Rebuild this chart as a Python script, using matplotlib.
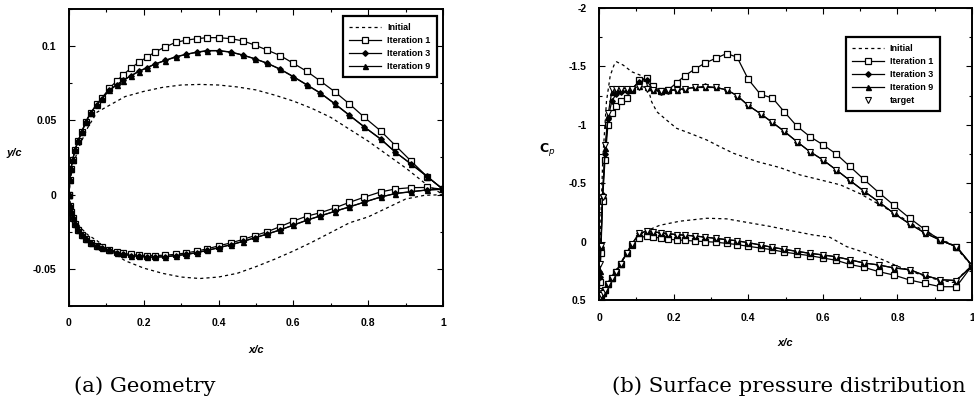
import matplotlib
matplotlib.use("Agg")
import matplotlib.pyplot as plt
from matplotlib.ticker import AutoMinorLocator, FixedLocator

# ---------------- data ----------------
# common marker stations (x/c)
xs = [0.0, 0.002, 0.005, 0.0095, 0.016, 0.024, 0.034, 0.045, 0.058, 0.074,
      0.088, 0.108, 0.128, 0.145, 0.165, 0.186, 0.208, 0.23, 0.258, 0.285,
      0.313, 0.342, 0.37, 0.40, 0.433, 0.465, 0.497, 0.53, 0.565, 0.6,
      0.636, 0.672, 0.71, 0.75, 0.79, 0.833, 0.873, 0.915, 0.958, 1.0]

# (a) geometry: upper / lower surfaces
geo_upper_it1 = [0.0, 0.010, 0.017, 0.023, 0.030, 0.036, 0.042, 0.049, 0.055, 0.0607,
                 0.065, 0.0716, 0.0766, 0.0807, 0.085, 0.089, 0.0925, 0.0960, 0.0995, 0.1025,
                 0.104, 0.105, 0.1057, 0.1057, 0.105, 0.1035, 0.1007, 0.0973, 0.0936, 0.0884,
                 0.083, 0.0765, 0.0694, 0.061, 0.052, 0.043, 0.033, 0.0225, 0.012, 0.0036]
geo_upper_it3 = [0.0, 0.010, 0.017, 0.023, 0.030, 0.036, 0.042, 0.049, 0.055, 0.0605,
                 0.0645, 0.0705, 0.074, 0.077, 0.080, 0.083, 0.0855, 0.088, 0.0905, 0.0928,
                 0.0945, 0.096, 0.097, 0.097, 0.096, 0.094, 0.0915, 0.0885, 0.0845, 0.0795,
                 0.074, 0.0685, 0.0614, 0.0535, 0.0456, 0.0376, 0.0286, 0.0206, 0.0122, 0.0036]
geo_upper_it9 = [0.0, 0.010, 0.017, 0.023, 0.030, 0.036, 0.042, 0.049, 0.055, 0.0605,
                 0.0645, 0.0703, 0.0738, 0.0768, 0.0798, 0.0828, 0.0853, 0.0878, 0.0903, 0.0926,
                 0.0944, 0.0958, 0.0968, 0.0969, 0.0959, 0.0939, 0.0914, 0.0884, 0.0843, 0.0793,
                 0.0738, 0.0683, 0.0612, 0.0533, 0.0454, 0.0374, 0.0285, 0.0205, 0.0121, 0.0036]
geo_lower_it1 = [0.0, -0.008, -0.012, -0.016, -0.020, -0.024, -0.0275, -0.030, -0.0325, -0.0345,
                 -0.0355, -0.037, -0.0385, -0.0395, -0.0402, -0.0407, -0.041, -0.041, -0.0408, -0.0402,
                 -0.0393, -0.038, -0.0365, -0.0345, -0.0325, -0.0302, -0.0276, -0.025, -0.0215, -0.0178,
                 -0.0145, -0.0122, -0.009, -0.0052, -0.0017, 0.0018, 0.0038, 0.0047, 0.0048, 0.0036]
geo_lower_it3 = [0.0, -0.008, -0.012, -0.016, -0.020, -0.024, -0.0275, -0.030, -0.0325, -0.0345,
                 -0.0357, -0.0373, -0.039, -0.040, -0.041, -0.0415, -0.042, -0.042, -0.0418, -0.041,
                 -0.0403, -0.039, -0.0375, -0.0357, -0.0337, -0.0315, -0.029, -0.0265, -0.0237, -0.0205,
                 -0.0172, -0.0143, -0.0113, -0.0082, -0.005, -0.0016, 0.0008, 0.002, 0.0032, 0.0036]
geo_lower_it9 = [0.0, -0.008, -0.012, -0.016, -0.020, -0.024, -0.0275, -0.030, -0.0325, -0.0345,
                 -0.0357, -0.0374, -0.0391, -0.0401, -0.0411, -0.0416, -0.0421, -0.0421, -0.0419, -0.0411,
                 -0.0404, -0.0391, -0.0376, -0.0358, -0.0338, -0.0316, -0.0291, -0.0266, -0.0238, -0.0206,
                 -0.0173, -0.0144, -0.0114, -0.0083, -0.0051, -0.0017, 0.0007, 0.0019, 0.0031, 0.0036]

# initial geometry (dotted)
xs_init = [0.0, 0.005, 0.01, 0.02, 0.03, 0.05, 0.075, 0.1, 0.15, 0.2, 0.25, 0.3, 0.35,
           0.4, 0.45, 0.5, 0.55, 0.6, 0.65, 0.7, 0.75, 0.8, 0.85, 0.9, 0.95, 1.0]
geo_upper_init = [0.0, 0.012, 0.018, 0.027, 0.034, 0.045, 0.0555, 0.059, 0.066, 0.0695, 0.0722, 0.0738, 0.0742,
                  0.0738, 0.0725, 0.0705, 0.067, 0.063, 0.058, 0.052, 0.044, 0.036, 0.027, 0.018, 0.008, 0.0]
geo_lower_init = [0.0, -0.008, -0.012, -0.018, -0.022, -0.027, -0.031, -0.036, -0.0445, -0.0495, -0.053, -0.0555, -0.0565,
                  -0.0555, -0.053, -0.0485, -0.0435, -0.038, -0.032, -0.0255, -0.019, -0.015, -0.009, -0.003, -0.0005, 0.0]

# (b) surface pressure
cp_upper_it1 = [0.48, 0.35, 0.10, -0.35, -0.70, -1.00, -1.10, -1.16, -1.20, -1.23,
                -1.30, -1.38, -1.40, -1.33, -1.29, -1.30, -1.36, -1.42, -1.48, -1.53,
                -1.57, -1.61, -1.58, -1.39, -1.26, -1.23, -1.11, -0.99, -0.90, -0.83,
                -0.75, -0.645, -0.533, -0.42, -0.313, -0.20, -0.105, -0.01, 0.043, 0.206]
cp_upper_it3 = [0.48, 0.30, 0.05, -0.40, -0.75, -1.05, -1.20, -1.26, -1.28, -1.29,
                -1.31, -1.37, -1.38, -1.30, -1.28, -1.29, -1.30, -1.31, -1.32, -1.33,
                -1.32, -1.30, -1.25, -1.166, -1.095, -1.02, -0.943, -0.857, -0.771, -0.70,
                -0.614, -0.525, -0.433, -0.34, -0.243, -0.151, -0.075, -0.012, 0.043, 0.206]
cp_upper_it9 = [0.48, 0.25, 0.04, -0.40, -0.80, -1.08, -1.28, -1.31, -1.31, -1.31,
                -1.31, -1.33, -1.32, -1.30, -1.29, -1.30, -1.30, -1.31, -1.32, -1.32,
                -1.32, -1.30, -1.25, -1.166, -1.095, -1.02, -0.943, -0.857, -0.771, -0.70,
                -0.614, -0.525, -0.433, -0.34, -0.243, -0.151, -0.075, -0.012, 0.043, 0.206]
cp_upper_target = [0.42, 0.19, 0.04, -0.38, -0.83, -1.10, -1.31, -1.31, -1.31, -1.31,
                   -1.31, -1.32, -1.31, -1.30, -1.29, -1.30, -1.30, -1.31, -1.32, -1.32,
                   -1.32, -1.30, -1.25, -1.166, -1.095, -1.02, -0.943, -0.857, -0.771, -0.70,
                   -0.614, -0.525, -0.433, -0.34, -0.243, -0.151, -0.075, -0.012, 0.043, 0.206]
cp_lower_it1 = [0.48, 0.47, 0.46, 0.44, 0.41, 0.36, 0.31, 0.26, 0.19, 0.10,
                0.03, -0.03, -0.05, -0.04, -0.03, -0.02, -0.015, -0.01, -0.005, 0.0,
                0.005, 0.015, 0.025, 0.04, 0.055, 0.07, 0.09, 0.105, 0.12, 0.14,
                0.16, 0.195, 0.22, 0.257, 0.286, 0.329, 0.357, 0.386, 0.386, 0.206]
cp_lower_it3 = [0.48, 0.47, 0.46, 0.44, 0.41, 0.36, 0.31, 0.26, 0.19, 0.10,
                0.02, -0.07, -0.09, -0.085, -0.075, -0.068, -0.06, -0.055, -0.048, -0.038,
                -0.028, -0.017, -0.007, 0.009, 0.029, 0.049, 0.066, 0.083, 0.10, 0.114,
                0.13, 0.155, 0.183, 0.20, 0.225, 0.24, 0.29, 0.326, 0.333, 0.206]
cp_lower_it9 = cp_lower_it3
cp_lower_target = [0.50, 0.47, 0.46, 0.44, 0.41, 0.36, 0.31, 0.26, 0.19, 0.10,
                   0.02, -0.07, -0.09, -0.085, -0.075, -0.068, -0.06, -0.055, -0.048, -0.038,
                   -0.028, -0.017, -0.007, 0.009, 0.029, 0.049, 0.066, 0.083, 0.10, 0.114,
                   0.13, 0.155, 0.183, 0.20, 0.225, 0.24, 0.29, 0.326, 0.333, 0.206]

xs_cp_init_u = [0.0, 0.005, 0.01, 0.02, 0.03, 0.04, 0.047, 0.065, 0.088, 0.11, 0.128, 0.141, 0.155,
                0.181, 0.208, 0.244, 0.289, 0.324, 0.36, 0.423, 0.485, 0.539, 0.593, 0.647,
                0.70, 0.75, 0.80, 0.85, 0.90, 0.95, 1.0]
cp_upper_init = [0.48, -0.2, -0.7, -1.2, -1.42, -1.51, -1.54, -1.511, -1.454, -1.426, -1.355, -1.198, -1.112,
                 -1.041, -0.97, -0.927, -0.87, -0.813, -0.757, -0.686, -0.634, -0.571, -0.529, -0.486,
                 -0.41, -0.32, -0.23, -0.13, -0.045, 0.03, 0.206]
xs_cp_init_l = [0.0, 0.01, 0.03, 0.05, 0.07, 0.09, 0.118, 0.163, 0.217, 0.289, 0.342, 0.396,
                0.459, 0.521, 0.574, 0.619, 0.664, 0.718, 0.762, 0.80, 0.85, 0.90, 0.95, 1.0]
cp_lower_init = [0.48, 0.42, 0.32, 0.22, 0.12, 0.02, -0.08, -0.14, -0.175, -0.20, -0.195, -0.165,
                 -0.13, -0.09, -0.057, -0.037, 0.043, 0.10, 0.157, 0.21, 0.27, 0.32, 0.35, 0.206]

# ---------------- figure ----------------
plt.rcParams['font.family'] = ['Liberation Sans', 'DejaVu Sans']
fig = plt.figure(figsize=(9.74, 4.12), dpi=100)
fig.patch.set_facecolor('white')

axL = fig.add_axes([0.0708, 0.2573, 0.3840, 0.7209])
axR = fig.add_axes([0.6150, 0.2718, 0.3830, 0.7087])

lw = 0.9
kw1 = dict(color='black', lw=lw, marker='s', ms=4.6, mfc='white', mec='black', mew=0.9)
kw3 = dict(color='black', lw=lw, marker='D', ms=2.8, mfc='black', mec='black')
kw9 = dict(color='black', lw=lw, marker='^', ms=3.6, mfc='black', mec='black')
kwi = dict(color='black', lw=0.9, ls=(0, (2.5, 2.5)))

# (a)
axL.plot(xs_init, geo_upper_init, label='Initial', **kwi)
axL.plot(xs_init, geo_lower_init, **kwi)
axL.plot(xs, geo_upper_it1, label='Iteration 1', **kw1)
axL.plot(xs, geo_lower_it1, **kw1)
axL.plot(xs, geo_upper_it3, label='Iteration 3', **kw3)
axL.plot(xs, geo_lower_it3, **kw3)
axL.plot(xs, geo_upper_it9, label='Iteration 9', **kw9)
axL.plot(xs, geo_lower_it9, **kw9)
axL.set_xlim(0, 1)
axL.set_ylim(-0.075, 0.125)
axL.yaxis.set_major_locator(FixedLocator([-0.05, 0, 0.05, 0.1]))
axL.set_yticklabels(['-0.05', '0', '0.05', '0.1'])
axL.set_xticks([0, 0.2, 0.4, 0.6, 0.8, 1.0])
axL.set_xticklabels(['0', '0.2', '0.4', '0.6', '0.8', '1'])

# (b)
axR.plot(xs_cp_init_u, cp_upper_init, label='Initial', **kwi)
axR.plot(xs_cp_init_l, cp_lower_init, **kwi)
axR.plot(xs, cp_upper_it1, label='Iteration 1', **kw1)
axR.plot(xs, cp_lower_it1, **kw1)
axR.plot(xs, cp_upper_it3, label='Iteration 3', **kw3)
axR.plot(xs, cp_lower_it3, **kw3)
axR.plot(xs, cp_upper_it9, label='Iteration 9', **kw9)
axR.plot(xs, cp_lower_it9, **kw9)
axR.plot(xs, cp_upper_target, ls='none', marker='v', ms=4.2, mfc='white', mec='black', mew=0.8, label='target')
axR.plot(xs, cp_lower_target, ls='none', marker='v', ms=4.2, mfc='white', mec='black', mew=0.8)
axR.set_xlim(0, 1)
axR.set_ylim(0.5, -2)
axR.set_yticks([-2, -1.5, -1, -0.5, 0, 0.5])
axR.set_yticklabels(['-2', '-1.5', '-1', '-0.5', '0', '0.5'])
axR.set_xticks([0, 0.2, 0.4, 0.6, 0.8, 1.0])
axR.set_xticklabels(['0', '0.2', '0.4', '0.6', '0.8', '1'])

for ax in (axL, axR):
    for s in ax.spines.values():
        s.set_linewidth(1.4)
    ax.xaxis.set_minor_locator(AutoMinorLocator(2))
    ax.yaxis.set_minor_locator(AutoMinorLocator(2))
    ax.tick_params(which='both', direction='in', top=True, right=True, width=0.8)
    ax.tick_params(which='major', length=4, labelsize=7.5, pad=9)
    ax.tick_params(which='minor', length=2)
    for t in ax.get_xticklabels() + ax.get_yticklabels():
        t.set_fontweight('bold')

legkw = dict(handlelength=3.6, handletextpad=0.6, labelspacing=0.45,
             borderpad=0.7, fancybox=False, framealpha=1, edgecolor='black',
             prop={'weight': 'bold', 'size': 6.5})
legL = axL.legend(loc='upper right', bbox_to_anchor=(0.995, 0.99), **legkw)
legR = axR.legend(loc='upper right', bbox_to_anchor=(0.925, 0.915), **legkw)
for lg in (legL, legR):
    lg.get_frame().set_linewidth(1.6)

# axis labels
fig.text(14 / 974, 1 - 153 / 412, 'y/c', ha='center', va='center', fontsize=8,
         fontweight='bold', fontstyle='italic')
fig.text(256 / 974, 1 - 350 / 412, 'x/c', ha='center', va='center', fontsize=8,
         fontweight='bold', fontstyle='italic')
fig.text(547 / 974, 1 - 150 / 412, r'$\mathbf{C}_{\mathit{p}}$', ha='center', va='center', fontsize=9)
fig.text(785 / 974, 1 - 343 / 412, 'x/c', ha='center', va='center', fontsize=8,
         fontweight='bold', fontstyle='italic')

# captions
capfont = ['DejaVu Serif', 'Liberation Serif']
fig.text(145 / 974, 1 - 386 / 412, '(a) Geometry', ha='center', va='center', fontsize=15.3,
         family=capfont)
fig.text(789 / 974, 1 - 386 / 412, '(b) Surface pressure distribution', ha='center', va='center', fontsize=15.3,
         family=capfont)

fig.savefig('out.png', dpi=100, facecolor='white')
